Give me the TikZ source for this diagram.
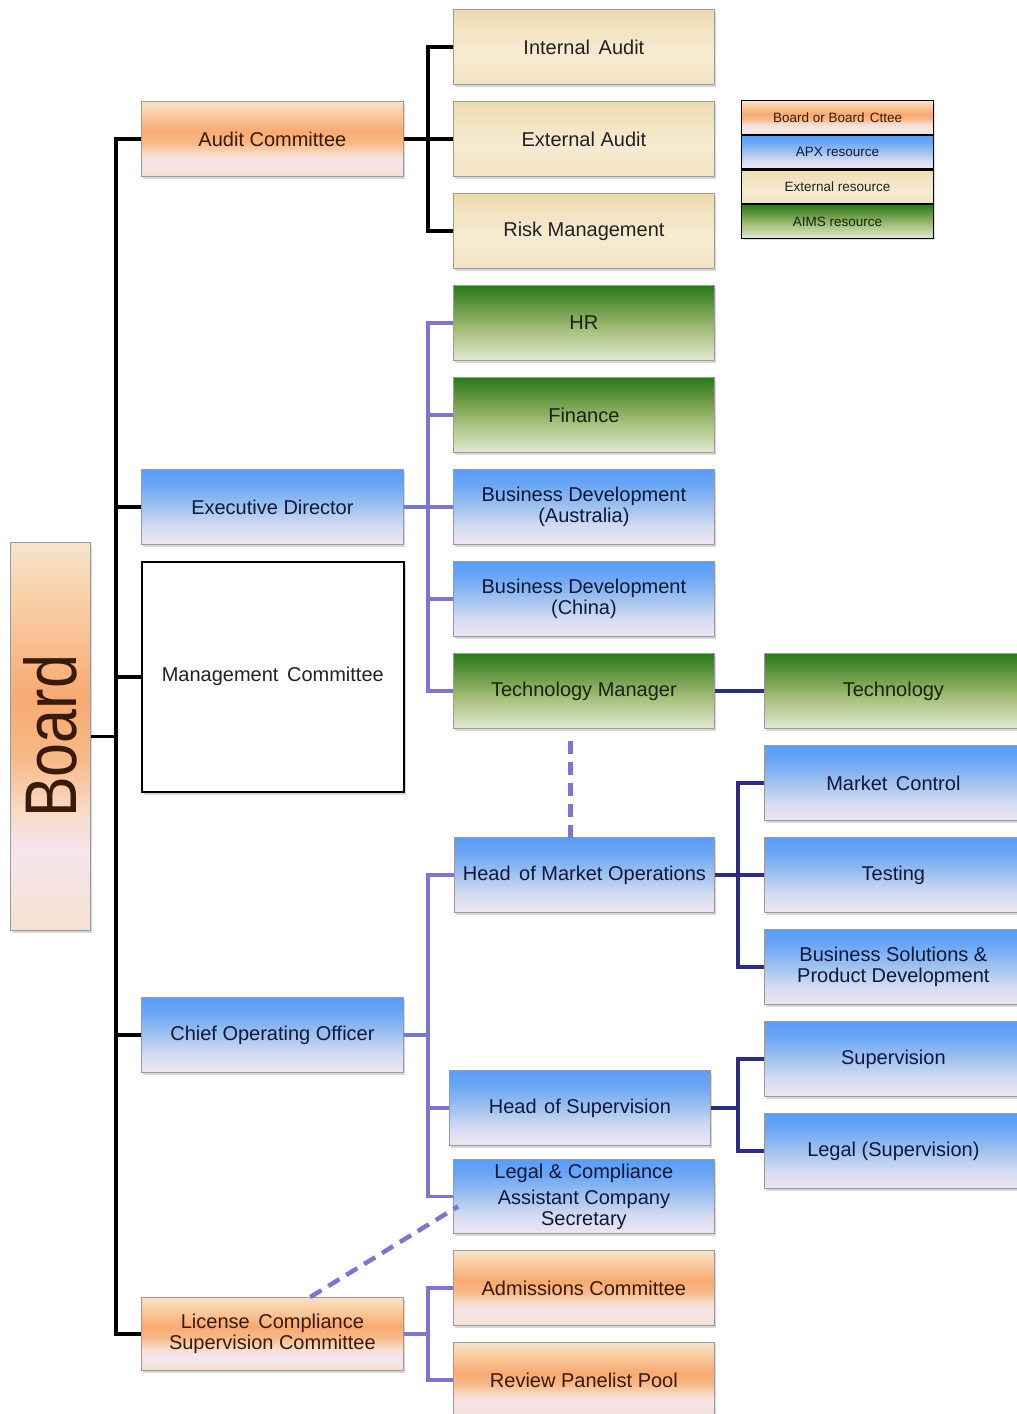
\documentclass[tikz,border=0pt]{standalone}
\usepackage{fontspec}
\setmainfont{Liberation Sans}
\usetikzlibrary{shadows}
% orange
\definecolor{orA}{HTML}{F5E2D0}\definecolor{orB}{HTML}{F6E4EE}\definecolor{orC}{HTML}{F8DCC8}
\definecolor{orD}{HTML}{F8B886}\definecolor{orE}{HTML}{F8AA72}\definecolor{orF}{HTML}{F9CFA5}
\definecolor{orG}{HTML}{F7E3CC}
% blue
\definecolor{blA}{HTML}{EFE6F4}\definecolor{blB}{HTML}{D2DBF2}\definecolor{blC}{HTML}{A0C2EF}
\definecolor{blD}{HTML}{6AA6F6}\definecolor{blE}{HTML}{5C9CF6}
% green
\definecolor{grA}{HTML}{E0EAD0}\definecolor{grB}{HTML}{A6C07C}\definecolor{grC}{HTML}{6A9A45}
\definecolor{grD}{HTML}{2A7A1C}
% cream
\definecolor{crA}{HTML}{F2E3C2}\definecolor{crB}{HTML}{F6EBD2}\definecolor{crC}{HTML}{F3E4C3}
\definecolor{crD}{HTML}{EDDAB0}
% text and lines
\definecolor{ortext}{HTML}{3A1A0A}\definecolor{bltext}{HTML}{10183A}
\definecolor{grtext}{HTML}{152510}\definecolor{crtext}{HTML}{222222}
\definecolor{boxgray}{HTML}{9A9A9A}
\definecolor{lav}{HTML}{7C76D2}\definecolor{navy}{HTML}{2F2C88}

\pgfdeclareverticalshading{orsh}{100bp}{color(0bp)=(orA); color(25bp)=(orA); color(35bp)=(orB); color(40bp)=(orC); color(47.5bp)=(orD); color(55bp)=(orE); color(67.5bp)=(orF); color(75bp)=(orG); color(100bp)=(orG)}
\pgfdeclareverticalshading{blsh}{100bp}{color(0bp)=(blA); color(25bp)=(blA); color(37.5bp)=(blB); color(50bp)=(blC); color(65bp)=(blD); color(75bp)=(blE); color(100bp)=(blE)}
\pgfdeclareverticalshading{grsh}{100bp}{color(0bp)=(grA); color(25bp)=(grA); color(45bp)=(grB); color(60bp)=(grC); color(75bp)=(grD); color(100bp)=(grD)}
\pgfdeclareverticalshading{crsh}{100bp}{color(0bp)=(crA); color(25bp)=(crA); color(45bp)=(crB); color(60bp)=(crC); color(75bp)=(crD); color(100bp)=(crD)}

\tikzset{
  box/.style={draw=boxgray, line width=0.8pt, minimum width=261pt, minimum height=75pt,
    anchor=north west, inner sep=0pt, align=center, font=\fontsize{20}{21}\selectfont,
    drop shadow={shadow xshift=2pt, shadow yshift=-3pt, opacity=0.3}},
  orbox/.style={box, shade, shading=orsh, text=ortext},
  blbox/.style={box, shade, shading=blsh, text=bltext},
  grbox/.style={box, shade, shading=grsh, text=grtext},
  crbox/.style={box, shade, shading=crsh, text=crtext},
  legrow/.style={draw=black, line width=1.2pt, minimum width=192pt, minimum height=33.5pt,
    font=\fontsize{13.5}{14}\selectfont, drop shadow={shadow xshift=1.5pt, shadow yshift=-2pt, opacity=0.25}},
  blk/.style={line width=3.5pt, black},
  lavline/.style={line width=3.5pt, lav},
  navline/.style={line width=3.5pt, navy},
  lavdash/.style={line width=4.5pt, lav, dash pattern=on 13pt off 8pt},
}

\begin{document}
\begin{tikzpicture}[x=1pt, y=-1pt]
\path[use as bounding box] (0,0) rectangle (1017,1414);
\clip (0,0) rectangle (1017,1414);
\fill[white] (0,0) rectangle (1017,1414);

% Board
\node[orbox, minimum width=80pt, minimum height=388pt] (board) at (10,542)
  {\rotatebox{90}{\scalebox{1}[1.2]{\fontsize{61}{61}\selectfont Board}}};

% Left column
\node[orbox, minimum width=262pt] (audit) at (141,101) {Audit Committee};
\node[blbox, minimum width=262pt] (exec) at (141,469) {Executive Director};
\node[box, fill=white, draw=black, line width=1.6pt, minimum width=262pt, minimum height=230pt, text=crtext] (mgmt) at (141,561) {Management\hspace{0.15em} Committee};
\node[blbox, minimum width=262pt] (coo) at (141,997) {Chief Operating Officer};
\node[orbox, minimum width=262pt, minimum height=73pt] (lcsc) at (141,1297) {License\hspace{0.15em} Compliance\\Supervision Committee};

% Middle column
\node[crbox] (ia) at (453,9) {Internal\hspace{0.15em} Audit};
\node[crbox] (ea) at (453,101) {External Audit};
\node[crbox] (rm) at (453,193) {Risk Management};
\node[grbox] (hr) at (453,285) {HR};
\node[grbox] (fin) at (453,377) {Finance};
\node[blbox] (bda) at (453,469) {Business Development\\(Australia)};
\node[blbox] (bdc) at (453,561) {Business Development\\(China)};
\node[grbox] (tm) at (453,653) {Technology Manager};
\node[blbox, minimum width=260pt] (hmo) at (454,837) {Head\hspace{0.15em} of Market Operations};
\node[blbox] (hos) at (449,1070) {Head\hspace{0.1em} of Supervision};
\node[blbox, minimum height=74pt] (lcas) at (453,1159) {Legal \& Compliance\\[5pt]Assistant Company\\Secretary};
\node[orbox] (adm) at (453,1250) {Admissions Committee};
\node[orbox] (rpp) at (453,1342) {Review Panelist Pool};

% Right column
\node[grbox, minimum width=258pt] (tech) at (764,653) {Technology};
\node[blbox, minimum width=258pt] (mc) at (764,745) {Market\hspace{0.15em} Control};
\node[blbox, minimum width=258pt] (test) at (764,837) {Testing};
\node[blbox, minimum width=258pt] (bspd) at (764,929) {Business Solutions \&\\Product Development};
\node[blbox, minimum width=258pt] (sup) at (764,1021) {Supervision};
\node[blbox, minimum width=258pt] (legsup) at (764,1113) {Legal (Supervision)};

% Legend
\node[legrow, shade, shading=orsh, text=ortext, anchor=north west] (lg1) at (741,100) {Board or Board\hspace{0.1em} Cttee};
\node[legrow, shade, shading=blsh, text=bltext, anchor=north] (lg2) at (lg1.south) {APX resource};
\node[legrow, shade, shading=crsh, text=crtext, anchor=north] (lg3) at (lg2.south) {External resource};
\node[legrow, shade, shading=grsh, text=grtext, anchor=north] (lg4) at (lg3.south) {AIMS resource};

% Trunk from Board
\coordinate (trunk) at (116,0);
\draw[blk] (audit.west) -- ++(-25,0) |- (lcsc.west);
\draw[blk] (exec.west) -- ++(-25,0);
\draw[blk] (mgmt.west) -- ++(-25,0);
\draw[blk] (coo.west) -- ++(-25,0);
\draw[blk] (board.east) -- (board.east -| trunk);

% Audit Committee group
\draw[blk] (audit.east) -- (ea.west);
\draw[blk] (ia.west) -- ++(-25,0) |- (rm.west);

% Executive Director group
\draw[lavline] (exec.east) -- (bda.west);
\draw[lavline] (hr.west) -- ++(-25,0) |- (tm.west);
\draw[lavline] (fin.west) -- ++(-25,0);
\draw[lavline] (bdc.west) -- ++(-25,0);
\draw[navline] (tm.east) -- (tech.west);

% dashed Technology Manager -> Head of Market Operations
\draw[lavdash] ([xshift=-13.5pt, yshift=-12pt]tm.south) -- ([xshift=-14pt, yshift=-8pt]hmo.north);

% Head of Market Operations group
\draw[navline] (hmo.east) -- (test.west);
\draw[navline] (mc.west) -- ++(-26,0) |- (bspd.west);

% COO group
\draw[lavline] (coo.east) -- ++(25,0);
\draw[lavline] (hmo.west) -- ++(-26,0) |- (lcas.west);
\draw[lavline] (hos.west) -- ++(-21,0);

% Head of Supervision group
\draw[navline] (hos.east) -- ++(28,0);
\draw[navline] (sup.west) -- ++(-26,0) |- (legsup.west);

% License committee group
\draw[lavline] (lcsc.east) -- ++(25,0);
\draw[lavline] (adm.west) -- ++(-25,0) |- (rpp.west);

% dashed License committee -> Legal & Compliance
\draw[lavdash] ([xshift=38pt]lcsc.north) -- ([xshift=5pt, yshift=-10pt]lcas.west);
\end{tikzpicture}
\end{document}
